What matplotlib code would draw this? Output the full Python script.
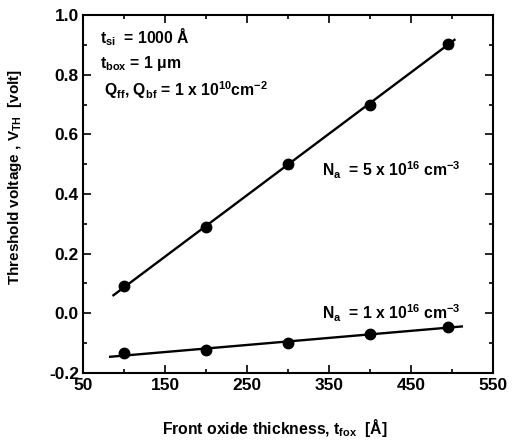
import numpy as np
import matplotlib
matplotlib.use("Agg")
import matplotlib.pyplot as plt
from matplotlib.ticker import MultipleLocator, FormatStrFormatter

plt.rcParams['font.family'] = ['Liberation Sans', 'DejaVu Sans']
plt.rcParams['font.weight'] = 'bold'
plt.rcParams['axes.labelweight'] = 'bold'
plt.rcParams['mathtext.fontset'] = 'custom'
plt.rcParams['mathtext.rm'] = 'Liberation Sans:bold'
plt.rcParams['mathtext.it'] = 'Liberation Sans:bold'
plt.rcParams['mathtext.bf'] = 'Liberation Sans:bold'

# front oxide thickness [A]
t_fox = [100, 200, 300, 400, 495]
# threshold voltage [V]
vth_5e16 = [0.09, 0.29, 0.50, 0.70, 0.905]
vth_1e16 = [-0.135, -0.125, -0.10, -0.07, -0.045]
# extent of the fitted lines
fit_range_5e16 = [87, 503]
fit_range_1e16 = [83, 512]

fig = plt.figure(figsize=(5.13, 4.47), dpi=100)
ax = fig.add_axes([0.162, 0.166, 0.799, 0.800])

for vals, rng in [(vth_5e16, fit_range_5e16), (vth_1e16, fit_range_1e16)]:
    p = np.polyfit(t_fox, vals, 1)
    xx = np.array(rng)
    ax.plot(xx, np.polyval(p, xx), color='black', lw=1.7)
    ax.plot(t_fox, vals, 'o', color='black', ms=7.5)

ax.xaxis.set_major_locator(MultipleLocator(100, offset=50))
ax.xaxis.set_minor_locator(MultipleLocator(50))
ax.yaxis.set_major_locator(MultipleLocator(0.2))
ax.yaxis.set_minor_locator(MultipleLocator(0.1))
ax.yaxis.set_major_formatter(FormatStrFormatter('%.1f'))
ax.set_xlim(50, 550)
ax.set_ylim(-0.2, 1.0)
ax.tick_params(which='both', direction='in', top=True, right=True, labelsize=12.5, width=1.2)
ax.tick_params(which='major', length=6)
ax.tick_params(axis='y', which='major', pad=3)
ax.tick_params(axis='x', which='major', pad=4)
ax.tick_params(which='minor', length=3)
for lab in ax.get_xticklabels() + ax.get_yticklabels():
    lab.set_fontweight('bold')
for s in ax.spines.values():
    s.set_linewidth(1.5)

ax.set_xlabel(r'Front oxide thickness, t$_{fox}$  [Å]', fontsize=11.3)
ax.xaxis.set_label_coords(0.468, -0.125)
ax.set_ylabel(r'Threshold voltage , V$_{TH}$  [volt]', fontsize=11)
ax.yaxis.set_label_coords(-0.144, 0.547)

ax.text(0.04, 0.94, r't$_{si}$  = 1000 Å', transform=ax.transAxes, fontsize=11.3, va='center')
ax.text(0.04, 0.865, r't$_{box}$ = 1 μm', transform=ax.transAxes, fontsize=11.3, va='center')
ax.text(0.05, 0.79, r'Q$_{ff}$, Q$_{bf}$ = 1 x 10$^{10}$cm$^{-2}$', transform=ax.transAxes, fontsize=11.3, va='center')
ax.text(0.582, 0.565, r'N$_{a}$  = 5 x 10$^{16}$ cm$^{-3}$', transform=ax.transAxes, fontsize=11.3, va='center')
ax.text(0.582, 0.165, r'N$_{a}$  = 1 x 10$^{16}$ cm$^{-3}$', transform=ax.transAxes, fontsize=11.3, va='center')

fig.savefig('out.png', dpi=100)
